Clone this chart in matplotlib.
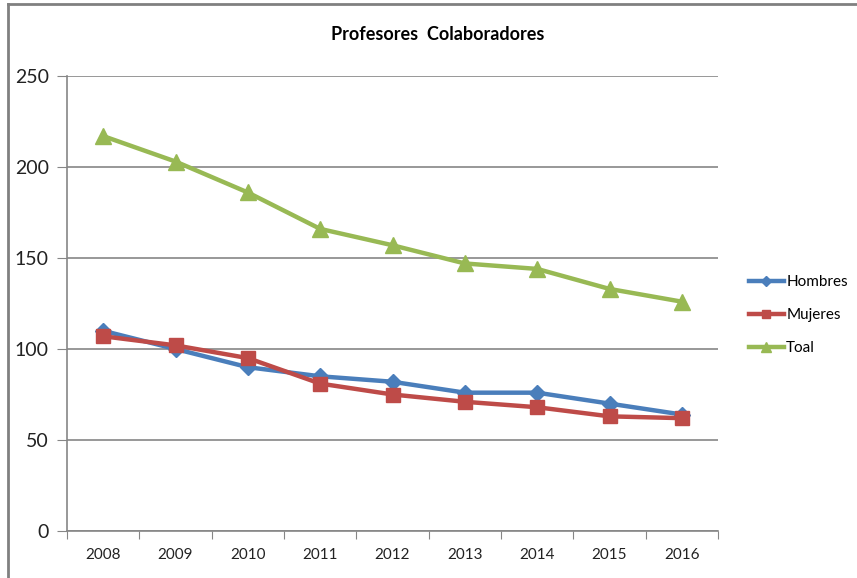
import matplotlib.pyplot as plt
from matplotlib.lines import Line2D

# Datos
anios = ['2008', '2009', '2010', '2011', '2012', '2013', '2014', '2015', '2016']
hombres = [110, 100, 90, 85, 82, 76, 76, 70, 64]
mujeres = [107, 102, 95, 81, 75, 71, 68, 63, 62]
total = [217, 203, 186, 166, 157, 147, 144, 133, 126]

plt.rcParams['font.family'] = ['Lato', 'DejaVu Sans']

W, H = 857, 578
fig = plt.figure(figsize=(W / 100, H / 100), dpi=100)
ax = fig.add_axes([67 / W, 1 - 531 / H, (718 - 67) / W, (531 - 76) / H])

x = range(len(anios))
ax.plot(x, hombres, color='#4A7EBB', lw=3.2, marker='D', ms=8, label='Hombres', zorder=3)
ax.plot(x, mujeres, color='#BE4B48', lw=3.2, marker='s', ms=10, label='Mujeres', zorder=4)
ax.plot(x, total, color='#98B954', lw=3.2, marker='^', ms=11, label='Toal', zorder=3)

ax.set_xlim(-0.5, len(anios) - 0.5)
ax.set_ylim(0, 250)
ax.set_yticks(range(0, 251, 50))
ax.set_xticks([i - 0.5 for i in range(len(anios) + 1)])
ax.set_xticklabels([])
ax.set_xticks(list(x), minor=True)
ax.set_xticklabels(anios, minor=True, fontsize=11, color='#222222')
ax.tick_params(axis='x', which='minor', length=0, pad=12)
ax.tick_params(axis='x', which='major', length=6, color='#868686', direction='out')
ax.tick_params(axis='y', length=7, color='#868686', labelsize=14, labelcolor='#222222', pad=6)

ax.grid(axis='y', color='#868686', lw=1.2)
ax.set_axisbelow(True)
for s in ['top', 'right']:
    ax.spines[s].set_visible(False)
for s in ['left', 'bottom']:
    ax.spines[s].set_color('#868686')
    ax.spines[s].set_linewidth(1.2)

fig.text(438 / W, 1 - 35 / H, 'Profesores  Colaboradores', ha='center', va='center',
         fontsize=13, fontweight='bold')

# Marco del gráfico
fig.add_artist(Line2D([8 / W, 8 / W], [0, 1 - 4 / H], color='#808080', lw=2))
fig.add_artist(Line2D([8 / W, 1], [1 - 4 / H, 1 - 4 / H], color='#808080', lw=2))

fig.legend(loc='center left', bbox_to_anchor=(738 / W, 1 - 315 / H), frameon=False,
           fontsize=11, handlelength=2.3, handletextpad=0.15, labelspacing=1.25,
           markerscale=0.6, borderpad=0.2)

fig.savefig('out.png', dpi=100)
